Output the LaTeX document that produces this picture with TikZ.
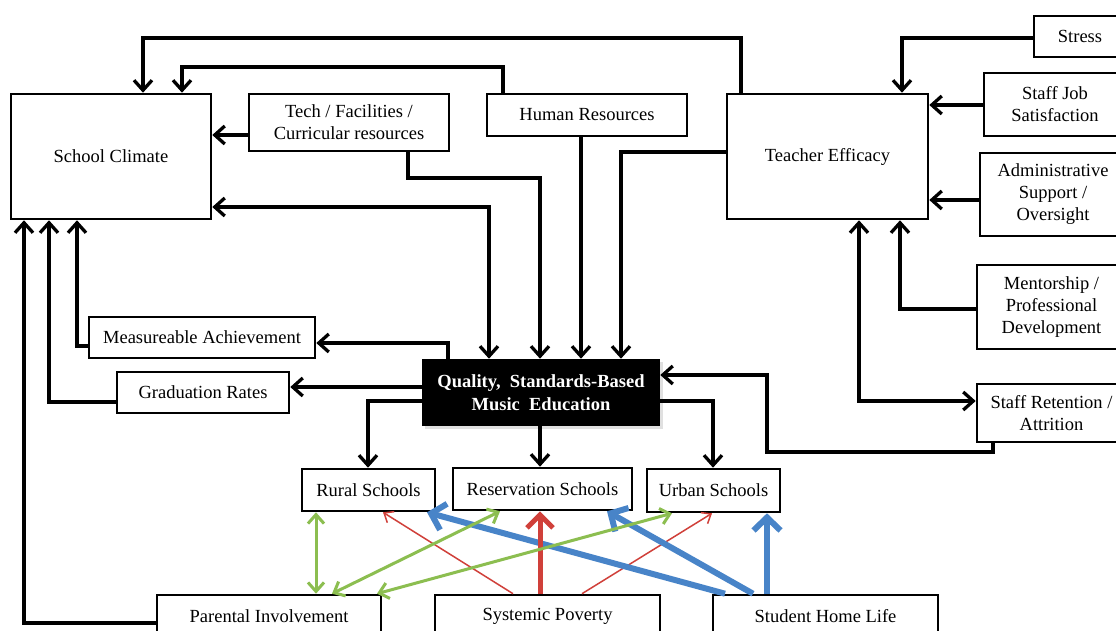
\documentclass[tikz,border=0pt]{standalone}
\usepackage{fontspec}
\setmainfont{Liberation Serif}
\usetikzlibrary{arrows.meta}
\definecolor{grn}{RGB}{140,190,80}
\definecolor{rd}{RGB}{208,64,58}
\definecolor{bl}{RGB}{72,132,200}
\tikzset{
  box/.style={draw, line width=2.6pt, rectangle, align=center, inner sep=0pt, fill=white,
    font=\fontsize{18.5}{22}\selectfont},
  arr/.style={line width=3.3pt, -{Straight Barb[length=10pt,width=18pt]}},
  darr/.style={line width=3.3pt, {Straight Barb[length=10pt,width=18pt]}-{Straight Barb[length=10pt,width=18pt]}},
  garr/.style={grn, line width=3pt, {Straight Barb[length=9pt,width=16pt]}-{Straight Barb[length=9pt,width=16pt]}},
  rthin/.style={rd, line width=1.5pt, -{Straight Barb[length=8pt,width=13pt]}},
  rthick/.style={rd, line width=5pt, -{Straight Barb[length=13pt,width=26pt]}},
  barr/.style={bl, line width=6pt, -{Straight Barb[length=13pt,width=27pt]}},
}
\begin{document}
\begin{tikzpicture}[x=1pt,y=-1pt]
\fill[white] (0,0) rectangle (1116,631);
\useasboundingbox (0,0) rectangle (1116,631);

% nodes
\node[box, minimum width=200pt, minimum height=125pt] (clim) at (111,156.5) {School Climate};
\node[box, minimum width=200pt, minimum height=57pt] (tech) at (349,122.5) {Tech / Facilities /\\Curricular resources};
\node[box, minimum width=200pt, minimum height=42pt] (hr) at (587,115) {Human Resources};
\node[box, minimum width=201pt, minimum height=125pt] (te) at (827.5,156.5) {Teacher Efficacy};
\node[box, minimum width=92pt, minimum height=41pt] (stress) at (1080,36.5) {Stress};
\node[box, minimum width=142pt, minimum height=63pt] (sjs) at (1055,104.5) {Staff Job\\Satisfaction};
\node[box, minimum width=146pt, minimum height=83pt] (admin) at (1053,194.5) {Administrative\\Support /\\Oversight};
\node[box, minimum width=149pt, minimum height=84pt] (ment) at (1051.5,307) {Mentorship /\\Professional\\Development};
\node[box, minimum width=149pt, minimum height=58pt] (ret) at (1051.5,413) {Staff Retention /\\Attrition};
\node[box, minimum width=226pt, minimum height=41pt] (meas) at (202,337.5) {Measureable Achievement};
\node[box, minimum width=172pt, minimum height=41pt] (grad) at (203,392.5) {Graduation Rates};
\fill[black!12] (425,362) rectangle (663,429);
\node[box, minimum width=236pt, minimum height=65pt, fill=black, text=white, draw=black,
  font=\bfseries\fontsize{18.5}{23}\selectfont] (qual) at (541,392.5) {Quality,\ \ Standards-Based\\Music\ \ Education};
\node[box, minimum width=133pt, minimum height=42pt] (rural) at (368.5,490) {Rural Schools};
\node[box, minimum width=179pt, minimum height=42pt] (res) at (542.5,489) {Reservation Schools};
\node[box, minimum width=133pt, minimum height=43pt] (urban) at (713.5,490.5) {Urban Schools};
\node[box, minimum width=224pt, minimum height=42pt] (par) at (269,616) {Parental Involvement};
\node[box, minimum width=225pt, minimum height=42pt] (pov) at (547.5,616) {Systemic Poverty};
\node[box, minimum width=225pt, minimum height=42pt] (home) at (825.5,616) {Student Home Life};

% helper coordinates
\coordinate (c1) at (741,38);
\coordinate (c2) at (143,38);
\coordinate (c3) at (503,67);
\coordinate (c4) at (182,67);
\coordinate (c5) at (0,135);
\coordinate (c6) at (408,178);
\coordinate (c7) at (540,178);
\coordinate (c8) at (489,207);
\coordinate (c9) at (581,250);
\coordinate (c10) at (621,152);
\coordinate (c11) at (902,38);
\coordinate (c12) at (0,105);
\coordinate (c13) at (0,200);
\coordinate (c14) at (900,309);
\coordinate (c15) at (859,401);
\coordinate (c16) at (993,452);
\coordinate (c17) at (767,452);
\coordinate (c18) at (767,375);
\coordinate (c19) at (713,401);
\coordinate (c20) at (448,343);
\coordinate (c21) at (0,387);
\coordinate (c22) at (368,401);
\coordinate (c23) at (540,450);
\coordinate (c24) at (77,346);
\coordinate (c25) at (49,402);
\coordinate (c26) at (24,623);

% black connectors
\draw[arr] (te.north -| c1) -- (c1) -- (c2) -- (clim.north -| c2);
\draw[arr] (hr.north -| c3) -- (c3) -- (c4) -- (clim.north -| c4);
\draw[arr] (tech.west |- c5) -- (clim.east |- c5);
\draw[arr] (tech.south -| c6) -- (c6) -- (c7) -- (qual.north -| c7);
\draw[darr] (clim.east |- c8) -- (c8) -- (qual.north -| c8);
\draw[arr] (hr.south -| c9) -- (qual.north -| c9);
\draw[arr] (te.west |- c10) -- (c10) -- (qual.north -| c10);
\draw[arr] (stress.west |- c11) -- (c11) -- (te.north -| c11);
\draw[arr] (sjs.west |- c12) -- (te.east |- c12);
\draw[arr] (admin.west |- c13) -- (te.east |- c13);
\draw[arr] (ment.west |- c14) -- (c14) -- (te.south -| c14);
\draw[darr] (te.south -| c15) -- (c15) -- (ret.west |- c15);
\draw[arr] (ret.south -| c16) -- (c16) -- (c17) -- (c18) -- (qual.east |- c18);
\draw[arr] (qual.east |- c19) -- (c19) -- (urban.north -| c19);
\draw[arr] (qual.north -| c20) -- (c20) -- (meas.east |- c20);
\draw[arr] (qual.west |- c21) -- (grad.east |- c21);
\draw[arr] (qual.west |- c22) -- (c22) -- (rural.north -| c22);
\draw[arr] (qual.south -| c23) -- (res.north -| c23);
\draw[arr] (meas.west |- c24) -- (c24) -- (clim.south -| c24);
\draw[arr] (grad.west |- c25) -- (c25) -- (clim.south -| c25);
\draw[arr] (par.west |- c26) -- (c26) -- (clim.south -| c26);

% coloured connectors
\coordinate (g1) at (316,0);
\coordinate (g2) at (500,0);
\coordinate (g3) at (332,0);
\coordinate (g4) at (672,0);
\coordinate (g5) at (377,0);
\coordinate (r1) at (513,0);
\coordinate (r2) at (383,0);
\coordinate (r3) at (540,0);
\coordinate (r4) at (582,0);
\coordinate (r5) at (712,0);
\coordinate (b1) at (725,0);
\coordinate (b2) at (427,0);
\coordinate (b3) at (753,0);
\coordinate (b4) at (607,0);
\coordinate (b5) at (767,0);

\draw[rthin] (pov.north -| r1) -- (rural.south -| r2);
\draw[rthin] (pov.north -| r4) -- (urban.south -| r5);
\draw[barr] (home.north -| b1) -- (rural.south -| b2);
\draw[barr] (home.north -| b3) -- (res.south -| b4);
\draw[barr] (home.north -| b5) -- (urban.south -| b5);
\draw[rthick] (pov.north -| r3) -- (res.south -| r3);
\draw[garr] (rural.south -| g1) -- (par.north -| g1);
\draw[garr] (res.south -| g2) -- (par.north -| g3);
\draw[garr] (urban.south -| g4) -- (par.north -| g5);
\end{tikzpicture}
\end{document}
